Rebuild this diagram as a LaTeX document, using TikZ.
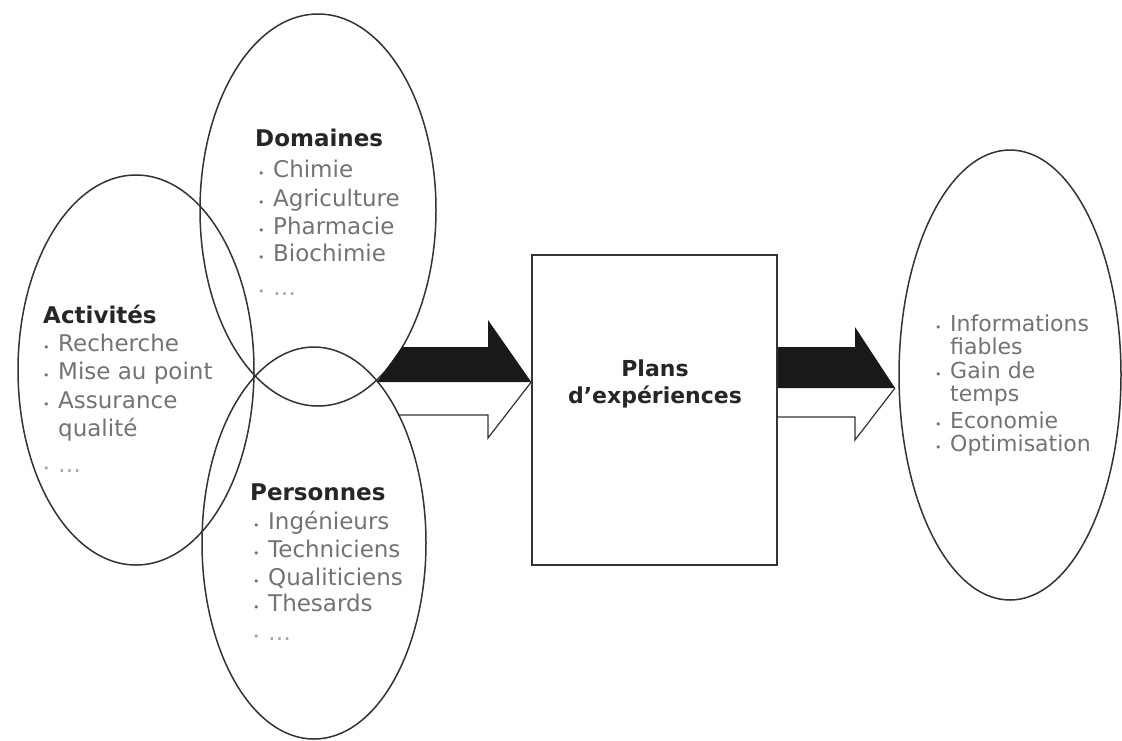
\documentclass[tikz,border=0pt]{standalone}
\usepackage{fontspec}
\setmainfont{DejaVu Sans}
\usetikzlibrary{shapes.geometric}
\newcommand{\bl}{\makebox[15pt][l]{\fontsize{11pt}{11pt}\selectfont •}}
\begin{document}
\begin{tikzpicture}[x=1pt,y=-1pt,
  ring/.style={draw=black!80, line width=1.5pt, ellipse, inner sep=0pt},
  head/.style={font=\bfseries\fontsize{23pt}{23pt}\selectfont, text=black!85, anchor=base west, inner sep=0pt},
  item/.style={font=\fontsize{23pt}{23pt}\selectfont, text=black!55, anchor=base west, inner sep=0pt},
  itemr/.style={font=\fontsize{22pt}{22pt}\selectfont, text=black!55, anchor=base west, inner sep=0pt},
  boxhead/.style={font=\bfseries\fontsize{22pt}{22pt}\selectfont, text=black!85, anchor=base, inner sep=0pt},
  blk/.style={fill=black!90},
  hollow/.style={draw=black!80, line width=1.2pt, line join=miter}
]
\useasboundingbox (0,0) rectangle (1122,740);
\fill[white] (0,0) rectangle (1122,740);

% ellipses
\node[ring, minimum width=236pt, minimum height=390pt] (act) at (136,370) {};
\node[ring, minimum width=236pt, minimum height=392pt] (dom) at (318,210) {};
\node[ring, minimum width=224pt, minimum height=392pt] (pers) at (314,543) {};
\node[ring, minimum width=222pt, minimum height=450pt] (res) at (1010,375) {};

% box
\node[draw=black!80, line width=1.5pt, minimum width=245pt, minimum height=310pt, inner sep=0pt] (plan) at (654.5,410) {};
\node[boxhead] (plan1) at (655,376) {Plans};
\node[boxhead] (plan2) at (655,403) {d'expériences};

% Activités
\node[head] (a0) at (43,323) {Activités};
\node[item] (a1) at (43,351) {\bl Recherche};
\node[item] (a2) at (43,379) {\bl Mise au point};
\node[item] (a3) at (43,408) {\bl Assurance};
\node[item] (a4) at (58,436) {qualité};
\node[item, text=black!35] (a5) at (43,472) {\bl \ldots};

% Domaines
\node[head] (d0) at (255,146) {Domaines};
\node[item] (d1) at (258,177) {\bl Chimie};
\node[item] (d2) at (258,206) {\bl Agriculture};
\node[item] (d3) at (258,234) {\bl Pharmacie};
\node[item] (d4) at (258,261) {\bl Biochimie};
\node[item, text=black!35] (d5) at (258,295) {\bl \ldots};

% Personnes
\node[head] (p0) at (250,500) {Personnes};
\node[item] (p1) at (253,529) {\bl Ingénieurs};
\node[item] (p2) at (253,557) {\bl Techniciens};
\node[item] (p3) at (253,585) {\bl Qualiticiens};
\node[item] (p4) at (253,611) {\bl Thesards};
\node[item, text=black!35] (p5) at (253,640) {\bl \ldots};

% Résultats
\node[itemr] (r1) at (935,331) {\bl Informations};
\node[itemr] (r2) at (950,354) {fiables};
\node[itemr] (r3) at (935,378) {\bl Gain de};
\node[itemr] (r4) at (950,401) {temps};
\node[itemr] (r5) at (935,428) {\bl Economie};
\node[itemr] (r6) at (935,451) {\bl Optimisation};

% block arrows
\fill[blk] (377,382) -- (402,347) -- (488,347) -- (488,320) -- (plan.west |- 0,382) -- cycle;
\draw[hollow] (399,415) -- (488,415) -- (488,438) -- (plan.west |- 0,382);
\fill[blk] (plan.east |- 0,347) -- (855,347) -- (855,327) -- (895,388) -- (plan.east |- 0,388) -- cycle;
\draw[hollow] (plan.east |- 0,417) -- (855,417) -- (855,440) -- (895,388);
\end{tikzpicture}
\end{document}
